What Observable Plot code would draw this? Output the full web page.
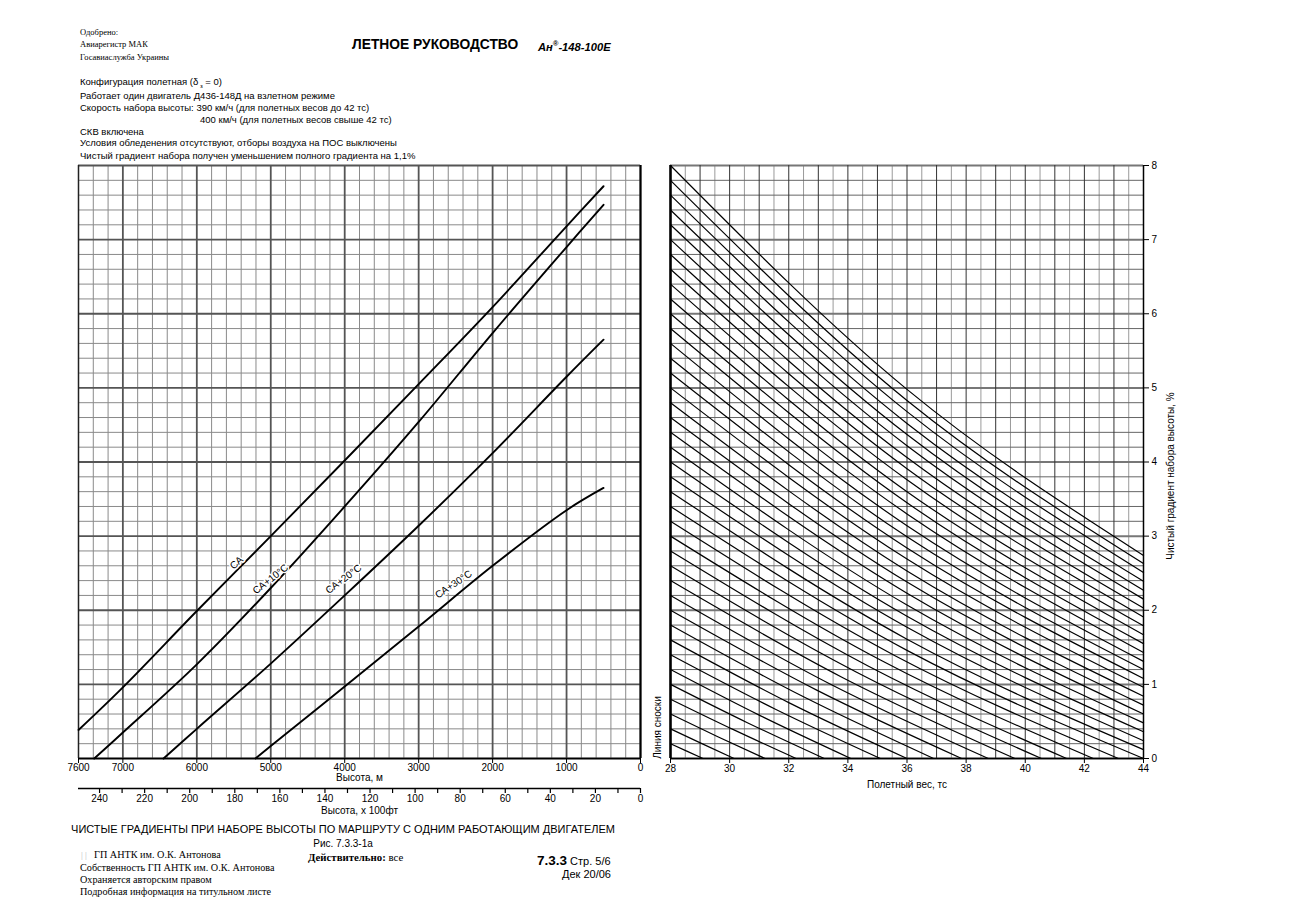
<!DOCTYPE html>
<html><head><meta charset="utf-8">
<script src="https://cdn.jsdelivr.net/npm/d3@7"></script>
<script src="https://cdn.jsdelivr.net/npm/@observablehq/plot@0.6"></script>
<style>
body{margin:0;background:#fff;}
#page{position:relative;width:1300px;height:919px;overflow:hidden;background:#fff;font-family:"Liberation Sans",Arial,sans-serif;color:#000;}
.t{position:absolute;white-space:nowrap;line-height:1;}
.serif{font-family:"Liberation Serif","Times New Roman",serif;}
.chart{position:absolute;}
.chart svg{overflow:visible;}
</style></head><body><div id="page"></div>
<script>
// ---------------- DATA ----------------
// Left chart: altitude (m) vs net climb gradient (%)
const seriesNames = ["СА", "СА+10°С", "СА+20°С", "СА+30°С"];
const altCA   = [7600, 7000, 6000, 5000, 4000, 3000, 2000, 1000, 500];
const gradCA  = [0.385, 0.96, 1.99, 3.00, 4.02, 5.05, 6.09, 7.18, 7.72];
const altCA10  = [7387, 7000, 6000, 5000, 4000, 3000, 2000, 1000, 500];
const gradCA10 = [0, 0.35, 1.27, 2.30, 3.40, 4.54, 5.74, 6.90, 7.47];
const altCA20  = [6450, 6000, 5000, 4000, 3000, 2000, 1000, 500];
const gradCA20 = [0, 0.40, 1.28, 2.20, 3.14, 4.12, 5.15, 5.65];
const altCA30  = [5207, 5000, 4000, 3000, 2000, 1000, 500];
const gradCA30 = [0, 0.17, 0.97, 1.78, 2.60, 3.35, 3.65];
// label anchor points for curve names
const labelAlt  = [5463, 5003, 4016, 2529];
const labelGrad = [2.64, 2.42, 2.42, 2.35];
const labelAngle = [-41, -38, -37, -34];

// axis ticks
const altitudeTicks = [7600, 7000, 6000, 5000, 4000, 3000, 2000, 1000, 0];
const feetTicks = [240, 220, 200, 180, 160, 140, 120, 100, 80, 60, 40, 20, 0];
const weightTicks = [28, 30, 32, 34, 36, 38, 40, 42, 44];
const gradientTicks = [0, 1, 2, 3, 4, 5, 6, 7, 8];

// Right chart: weight correction lines (start at reference line 28 тс)
const gradStart = [0.2,0.4,0.6,0.8,1.0,1.2,1.4,1.6,1.8,2.0,2.2,2.4,2.6,2.8,3.0,3.2,3.4,3.6,3.8,4.0,
                   4.2,4.4,4.6,4.8,5.0,5.2,5.4,5.6,5.8,6.0,6.2,6.4,6.6,6.8,7.0,7.2,7.4,7.6,7.8,8.0];
const midWeight = [28.55,29.08,29.6,30.13,30.6,31.05,31.55,32.0,32.45,32.93,33.38,33.83,34.28,34.7,35.15,35.58,36.0,
                   36,36,36,36,36,36,36,36,36,36,36,36,36,36,36,36,36,36,36,36,36,36,36];
const midGrad = [0.10,0.197,0.294,0.389,0.483,0.575,0.665,0.754,0.842,0.926,1.009,1.09,1.168,1.245,1.318,1.39,1.459,
                 1.61,1.77,1.92,2.07,2.23,2.38,2.53,2.69,2.84,2.99,3.14,3.30,3.45,3.60,3.76,3.91,4.06,4.22,4.37,4.52,4.68,4.83,4.98];
const endWeight = [29.1,30.15,31.2,32.25,33.2,34.1,35.1,36.0,36.9,37.85,38.75,39.65,40.55,41.4,42.3,43.15,44,
                   44,44,44,44,44,44,44,44,44,44,44,44,44,44,44,44,44,44,44,44,44,44,44];
const endGrad = [0,0,0,0,0,0,0,0,0,0,0,0,0,0,0,0,0,
                 0.12,0.24,0.36,0.48,0.60,0.72,0.84,0.96,1.08,1.20,1.31,1.43,1.55,1.67,1.79,1.91,2.03,2.15,2.27,2.39,2.51,2.63,2.74];

// ---------------- BUILD ----------------
const M_PER_100FT = 30.48;
const page = document.getElementById("page");
const FONT = "Liberation Sans, Arial, sans-serif";

function addText(html, x, y, o = {}) {
  const d = document.createElement("div");
  d.className = "t" + (o.serif ? " serif" : "");
  const fs = o.size || 10;
  d.style.fontSize = fs + "px";
  d.style.left = x + "px";
  d.style.top = (y - fs * 0.55) + "px";
  if (o.bold) d.style.fontWeight = "bold";
  if (o.italic) d.style.fontStyle = "italic";
  if (o.center) d.style.transform = "translateX(-50%)";
  if (o.color) d.style.color = o.color;
  d.innerHTML = html;
  page.appendChild(d);
}
function place(svg, left, top) {
  const w = document.createElement("div");
  w.className = "chart";
  w.style.left = left + "px";
  w.style.top = top + "px";
  w.appendChild(svg);
  page.appendChild(w);
}

// Left chart data table
const curves = [];
[[altCA, gradCA], [altCA10, gradCA10], [altCA20, gradCA20], [altCA30, gradCA30]].forEach(([a, g], i) => {
  a.forEach((v, j) => curves.push({series: seriesNames[i], alt: v, grad: g[j]}));
});
const labels = seriesNames.map((n, i) => ({name: n, alt: labelAlt[i], grad: labelGrad[i], angle: labelAngle[i]}));

const minorAlt = d3.range(0, 7601, 200).filter(v => v % 1000 !== 0);
const majorAlt = d3.range(0, 7601, 1000);
const minorGrad = d3.range(0, 41).map(i => i / 5).filter(v => Math.abs(v - Math.round(v)) > 1e-6);
const majorGrad = d3.range(0, 9);

const left = Plot.plot({
  width: 660, height: 800,
  marginLeft: 78, marginRight: 20, marginTop: 165, marginBottom: 42,
  x: {domain: [7600, 0], axis: null},
  y: {domain: [0, 8], axis: null},
  style: {fontFamily: FONT, fontSize: "10px", color: "#000", background: "transparent"},
  marks: [
    Plot.ruleX(minorAlt, {stroke: "#8a8a8a", strokeWidth: 1}),
    Plot.ruleY(minorGrad, {stroke: "#8a8a8a", strokeWidth: 1}),
    Plot.ruleX(majorAlt, {stroke: "#555", strokeWidth: 1.8}),
    Plot.ruleY(majorGrad, {stroke: "#555", strokeWidth: 1.8}),
    Plot.ruleX([7600], {stroke: "#222", strokeWidth: 1.5}),
    Plot.ruleX([0], {stroke: "#000", strokeWidth: 2}),
    Plot.ruleY([0], {stroke: "#000", strokeWidth: 1.5}),
    Plot.line(curves, {x: "alt", y: "grad", z: "series", curve: "catmull-rom", stroke: "#000", strokeWidth: 1.9}),
    Plot.text(labels, {x: "alt", y: "grad", text: "name", rotate: "angle", fontSize: 10, fill: "#000",
      stroke: "white", strokeWidth: 3, paintOrder: "stroke"}),
    Plot.axisX(altitudeTicks, {anchor: "bottom", tickSize: 5, tickPadding: 0, fontSize: 10, label: null,
      tickFormat: d => String(d)}),
    Plot.text(["Высота, м"], {frameAnchor: "bottom", dy: 22, fontSize: 10})
  ]
});
place(left, 0, 0);

// second scale: altitude in hundreds of feet
const ftMinor = d3.range(0, 250, 10);
const ftAxis = Plot.plot({
  width: 660, height: 40,
  marginLeft: 78, marginRight: 20, marginTop: 4, marginBottom: 31,
  x: {domain: [7600 / M_PER_100FT, 0], axis: null},
  y: {domain: [0, 1], axis: null},
  style: {fontFamily: FONT, fontSize: "10px", color: "#000", background: "transparent"},
  marks: [
    Plot.ruleY([1], {stroke: "#000", strokeWidth: 1.5}),
    Plot.ruleX(ftMinor, {y1: 1, y2: 0, stroke: "#000", strokeWidth: 1.2}),
    Plot.axisX(feetTicks, {anchor: "bottom", tickSize: 0, tickPadding: 1, fontSize: 10, label: null,
      tickFormat: d => String(d)}),
    Plot.text(["Высота, x 100фт"], {frameAnchor: "bottom", dy: 20, fontSize: 10})
  ]
});
place(ftAxis, 0, 784);

// Right chart
const corr = [];
gradStart.forEach((g0, i) => {
  corr.push({id: i, w: 28, g: g0});
  corr.push({id: i, w: midWeight[i], g: midGrad[i]});
  corr.push({id: i, w: endWeight[i], g: endGrad[i]});
});
const halfW = d3.range(28.5, 44, 1);
const intW = d3.range(29, 44, 1);

const right = Plot.plot({
  width: 600, height: 800,
  marginLeft: 30, marginRight: 97, marginTop: 165, marginBottom: 42,
  x: {domain: [28, 44], axis: null},
  y: {domain: [0, 8], axis: null},
  style: {fontFamily: FONT, fontSize: "10px", color: "#000", background: "transparent"},
  marks: [
    Plot.ruleX(halfW, {stroke: "#9a9a9a", strokeWidth: 1}),
    Plot.ruleY(minorGrad, {stroke: "#666", strokeWidth: 1}),
    Plot.ruleY(majorGrad, {stroke: "#777", strokeWidth: 2}),
    Plot.ruleX(intW, {stroke: "#333", strokeWidth: 1}),
    Plot.line(corr, {x: "w", y: "g", z: "id", curve: "natural", stroke: "#000", strokeWidth: 1.2}),
    Plot.ruleX([28], {stroke: "#000", strokeWidth: 2.6}),
    Plot.ruleX([44], {stroke: "#000", strokeWidth: 1.5}),
    Plot.ruleY([0], {stroke: "#000", strokeWidth: 1.5}),
    Plot.axisX(weightTicks, {anchor: "bottom", tickSize: 5, tickPadding: 1, fontSize: 10, label: null}),
    Plot.axisY(gradientTicks, {anchor: "right", tickSize: 5, tickPadding: 3, fontSize: 10, label: null,
      tickFormat: d => String(d)}),
    Plot.text(["Полетный вес, тс"], {frameAnchor: "bottom", dy: 29, fontSize: 10}),
    Plot.text(["Чистый градиент набора высоты, %"], {frameAnchor: "right", dx: 27, dy: 14, rotate: -90,
      fontSize: 10, textAnchor: "middle"}),
    Plot.text(["Линия сноски"], {frameAnchor: "bottom-left", dx: -10, dy: -31, rotate: -90, fontSize: 10, textAnchor: "middle"})
  ]
});
place(right, 640, 0);

// ---------------- TEXTS ----------------
addText("Одобрено:", 80, 33, {serif: true, size: 8.5});
addText("Авиарегистр МАК", 80, 45, {serif: true, size: 8.5});
addText("Госавиаслужба Украины", 80, 58, {serif: true, size: 8.5});
addText("ЛЕТНОЕ РУКОВОДСТВО", 352, 46, {bold: true, size: 13.8});
addText("Ан<sup style='font-size:7.5px'>®</sup>-148-100Е", 538, 46, {bold: true, italic: true, size: 11.2});

addText("Конфигурация полетная (δ<sub style='font-size:6px'> з</sub> = 0)", 80, 82, {size: 9.5});
addText("Работает один двигатель Д436-148Д на взлетном режиме", 80, 96, {size: 9.5});
addText("Скорость набора высоты: 390 км/ч (для полетных весов до 42 тс)", 80, 108, {size: 9.5});
addText("400 км/ч (для полетных весов свыше 42 тс)", 200, 120, {size: 9.5});
addText("СКВ включена", 80, 132, {size: 9.5});
addText("Условия обледенения отсутствуют, отборы воздуха на ПОС выключены", 80, 143, {size: 9.5});
addText("Чистый градиент набора получен уменьшением полного градиента на 1,1%", 80, 156, {size: 9.5});

addText("ЧИСТЫЕ ГРАДИЕНТЫ ПРИ НАБОРЕ ВЫСОТЫ ПО МАРШРУТУ С ОДНИМ РАБОТАЮЩИМ ДВИГАТЕЛЕМ", 343, 830, {size: 11, center: true});
addText("Рис. 7.3.3-1а", 343, 844, {size: 10, center: true});
addText("<b>Действительно:</b> все", 308, 858, {serif: true, size: 10.8});
addText("| |", 81, 856, {serif: true, size: 9, color: "#bbb"});
addText("ГП АНТК им. О.К. Антонова", 94, 856, {serif: true, size: 10.2});
addText("Собственность ГП АНТК им. О.К. Антонова", 80, 869, {serif: true, size: 10.2});
addText("Охраняется авторским правом", 80, 881, {serif: true, size: 10.2});
addText("Подробная информация на титульном листе", 80, 893, {serif: true, size: 10.2});
addText("<b style='font-size:13.5px'>7.3.3</b> Стр. 5/6", 537, 860, {size: 11});
addText("Дек 20/06", 562, 875, {size: 11});
</script></body></html>
